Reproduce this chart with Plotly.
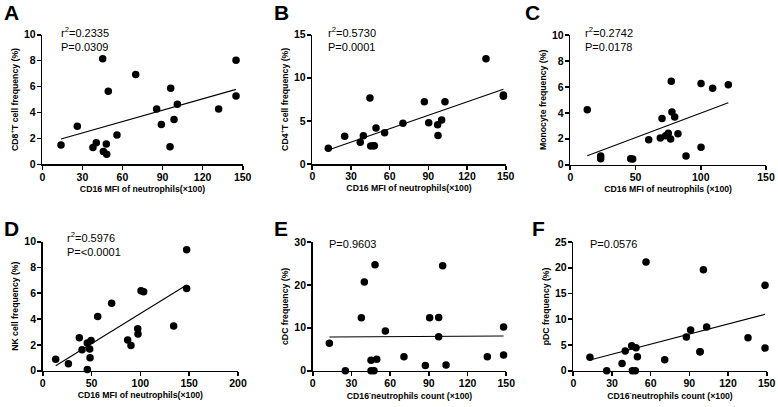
import plotly.graph_objects as go

# ---------------- data ----------------
a_x = [14.0, 26.2, 37.9, 40.4, 45.2, 45.7, 47.9, 48.2, 49.4, 55.9, 69.9, 85.6, 89.1, 95.6, 96.1, 98.6, 101.1, 132.0, 145.0, 145.0]
a_y = [1.49, 2.93, 1.29, 1.67, 8.15, 0.98, 1.57, 0.77, 5.63, 2.26, 6.92, 4.27, 3.08, 1.36, 5.87, 3.45, 4.63, 4.27, 8.02, 5.27]
a_fit_x = [14.0, 145.0]
a_fit_y = [1.95, 5.78]

b_x = [12.4, 25.1, 37.2, 39.6, 44.7, 45.3, 47.3, 48.1, 49.4, 56.1, 70.3, 86.9, 90.3, 97.2, 97.5, 100.3, 102.9, 134.7, 148.2, 148.2]
b_y = [1.82, 3.21, 2.51, 3.29, 7.65, 2.09, 2.13, 2.13, 4.17, 3.63, 4.72, 7.23, 4.79, 4.56, 3.32, 5.10, 7.23, 12.21, 8.00, 7.85]
b_fit_x = [12.4, 148.2]
b_fit_y = [1.62, 8.66]

c_x = [13.0, 23.3, 23.3, 46.3, 47.8, 60.1, 69.0, 70.3, 73.1, 75.1, 77.4, 76.9, 77.9, 80.0, 82.5, 88.7, 100.2, 100.2, 109.1, 121.1]
c_y = [4.24, 0.67, 0.46, 0.46, 0.44, 1.93, 2.06, 3.57, 2.24, 2.42, 6.43, 1.98, 4.06, 3.68, 2.39, 0.67, 6.27, 1.34, 5.89, 6.17]
c_fit_x = [13.0, 121.1]
c_fit_y = [0.69, 4.78]

d_x = [13.3, 26.3, 37.5, 40.3, 45.7, 45.7, 48.1, 48.5, 49.5, 56.3, 70.6, 87.0, 90.4, 97.3, 97.6, 100.7, 103.4, 134.1, 147.4, 147.4]
d_y = [0.88, 0.54, 2.56, 1.63, 2.14, 0.10, 1.68, 1.01, 2.35, 4.21, 5.22, 2.38, 1.96, 3.26, 2.84, 6.20, 6.12, 3.46, 9.38, 6.38]
d_fit_x = [13.3, 147.4]
d_fit_y = [0.39, 6.64]

e_x = [12.9, 25.3, 37.7, 40.0, 45.2, 45.2, 47.5, 48.3, 49.6, 56.3, 70.7, 87.3, 90.6, 97.6, 97.6, 100.7, 103.3, 135.3, 147.9, 147.9]
e_y = [6.37, 0.0, 12.35, 20.67, 2.41, 0.0, 0.0, 24.7, 2.64, 9.25, 3.26, 1.24, 12.35, 12.43, 7.93, 24.48, 1.32, 3.26, 10.18, 3.65]
e_fit_x = [12.9, 147.9]
e_fit_y = [7.85, 8.08]

f_x = [12.9, 25.9, 37.8, 40.3, 45.3, 45.8, 48.1, 48.6, 49.7, 56.4, 70.9, 87.7, 91.0, 98.3, 98.3, 100.9, 103.4, 135.5, 148.7, 148.7]
f_y = [2.59, 0.0, 1.42, 3.82, 4.86, 0.0, 0.0, 4.47, 2.72, 21.1, 2.14, 6.54, 7.90, 3.69, 3.69, 19.6, 8.48, 6.41, 16.58, 4.40]
f_fit_x = [12.9, 148.7]
f_fit_y = [2.07, 10.95]

panel_letters = ["A", "B", "C", "D", "E", "F"]
stat_texts = ["r<sup>2</sup>=0.2335<br>P=0.0309",
              "r<sup>2</sup>=0.5730<br>P=0.0001",
              "r<sup>2</sup>=0.2742<br>P=0.0178",
              "r<sup>2</sup>=0.5976<br>P=<0.0001",
              "P=0.9603",
              "P=0.0576"]
x_titles = ["CD16 MFI of neutrophils(\u00d7100)",
            "CD16 MFI of neutrophils(\u00d7100)",
            "CD16 MFI of neutrophils (\u00d7100)",
            "CD16 MFI of neutrophils(\u00d7100)",
            "CD16<sup>-</sup>neutrophils count (\u00d7100)",
            "CD16<sup>-</sup>neutrophils count (\u00d7100)"]
y_titles = ["CD8<sup>+</sup>T cell frequency (%)",
            "CD4<sup>+</sup>T cell frequency (%)",
            "Monocyte frequency (%)",
            "NK cell frequency (%)",
            "cDC frequency (%)",
            "pDC frequency (%)"]
x_ticks = [[0, 30, 60, 90, 120, 150], [0, 30, 60, 90, 120, 150], [0, 50, 100, 150],
           [0, 50, 100, 150, 200], [0, 30, 60, 90, 120, 150], [0, 30, 60, 90, 120, 150]]
y_ticks = [[0, 2, 4, 6, 8, 10], [0, 5, 10, 15], [0, 2, 4, 6, 8, 10],
           [0, 2, 4, 6, 8, 10], [0, 10, 20, 30], [0, 5, 10, 15, 20, 25]]

# ---------------- layout geometry ----------------
W, H = 778, 407
# pixel boxes: (x_left, x_right, y_top, y_bottom)
boxes = [(42.3, 242.7, 34.7, 164.3),
         (312.3, 505.7, 34.7, 164.0),
         (570.3, 766.0, 35.0, 164.7),
         (42.7, 238.0, 241.7, 370.7),
         (312.7, 506.3, 242.0, 370.7),
         (573.3, 766.7, 242.0, 370.7)]
letter_pos = [(2, 12), (272, 12), (523, 12), (2, 228), (272, 228), (530, 228)]
stat_pos = [(59, 23), (326, 23), (583, 23), (65, 228), (327, 236), (588, 236)]

series = [(a_x, a_y, a_fit_x, a_fit_y), (b_x, b_y, b_fit_x, b_fit_y), (c_x, c_y, c_fit_x, c_fit_y),
          (d_x, d_y, d_fit_x, d_fit_y), (e_x, e_y, e_fit_x, e_fit_y), (f_x, f_y, f_fit_x, f_fit_y)]

FONT = "Liberation Sans, Arial, sans-serif"
fig = go.Figure()
layout = dict(width=W, height=H, margin=dict(l=0, r=0, t=0, b=0, autoexpand=False),
              template="none",
              paper_bgcolor="white", plot_bgcolor="white", showlegend=False,
              font=dict(family=FONT, color="black"))
annotations = []

for i in range(6):
    n = "" if i == 0 else str(i + 1)
    xs, ys, fx, fy = series[i]
    fig.add_trace(go.Scatter(x=xs, y=ys, mode="markers", cliponaxis=False,
                             marker=dict(color="black", size=7.5),
                             xaxis="x" + n, yaxis="y" + n))
    fig.add_trace(go.Scatter(x=fx, y=fy, mode="lines", line=dict(color="black", width=1.1),
                             xaxis="x" + n, yaxis="y" + n))
    xl, xr, yt, yb = boxes[i]
    xt = x_ticks[i]
    yt_ = y_ticks[i]
    common = dict(showline=True, linecolor="black", linewidth=1.6, ticks="outside",
                  ticklen=4, tickwidth=1.6, tickcolor="black", showgrid=False, zeroline=False,
                  automargin=False,
                  tickfont=dict(size=10.5, weight="bold", family=FONT))
    layout["xaxis" + n] = dict(common, domain=[xl / W, xr / W], range=[xt[0], xt[-1]],
                               tickvals=xt, anchor="y" + n, ticklabelstandoff=-2,
                               title=dict(text=x_titles[i], standoff=4,
                                          font=dict(size=8.7, weight="bold", family=FONT)))
    layout["yaxis" + n] = dict(common, domain=[1 - yb / H, 1 - yt / H], range=[yt_[0], yt_[-1]],
                               tickvals=yt_, anchor="x" + n, ticklabelstandoff=-1,
                               title=dict(text=y_titles[i], standoff=4,
                                          font=dict(size=8.7, weight="bold", family=FONT)))
    lx, ly = letter_pos[i]
    annotations.append(dict(text="<b>" + panel_letters[i] + "</b>", x=lx / W, y=1 - ly / H,
                            xref="paper", yref="paper", xanchor="left", yanchor="middle",
                            showarrow=False, font=dict(size=21, family=FONT)))
    sx, sy = stat_pos[i]
    annotations.append(dict(text=stat_texts[i], x=sx / W, y=1 - sy / H, xref="paper", yref="paper",
                            xanchor="left", yanchor="top", align="left", showarrow=False,
                            font=dict(size=11, family=FONT)))

layout["annotations"] = annotations
fig.update_layout(**layout)
fig.write_html("out.html", config={"displayModeBar": False, "staticPlot": True},
               post_script="document.body.style.margin='0';document.body.style.overflow='hidden';")
